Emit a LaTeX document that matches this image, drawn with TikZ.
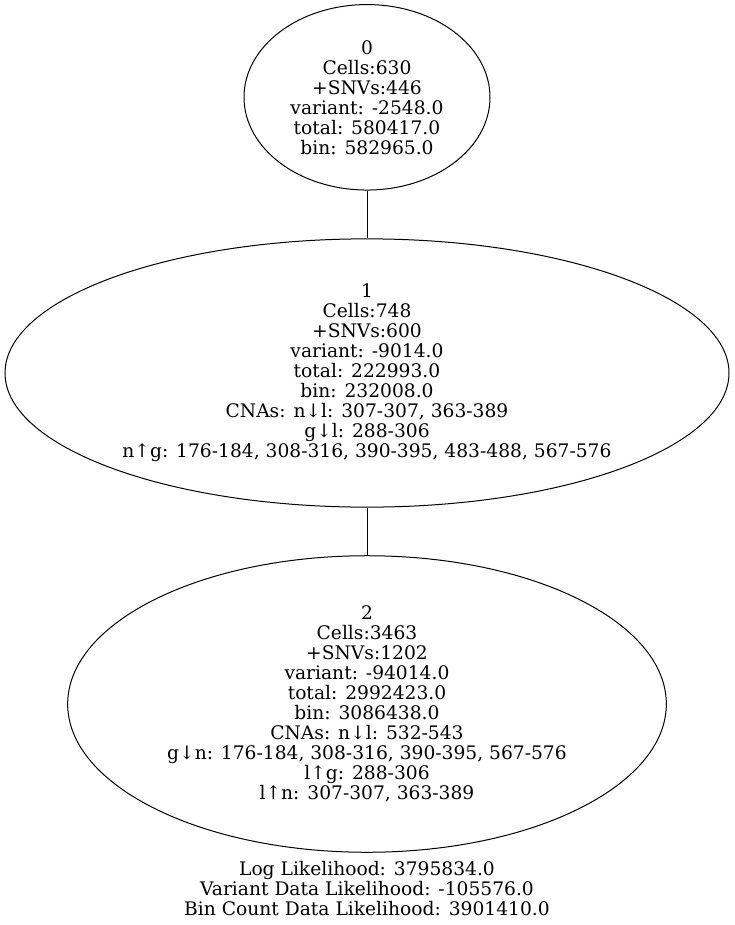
\documentclass[tikz,border=0pt]{standalone}
\usepackage{fontspec}
\setmainfont{DejaVu Serif}
\usetikzlibrary{shapes.geometric}
\begin{document}
\begin{tikzpicture}[x=0.75pt,y=-0.75pt,
  treenode/.style={draw,ellipse,inner sep=0pt,line width=0.75pt,align=center,
    font=\fontsize{14}{15}\selectfont},
  lbl/.style={align=center,inner sep=0pt,font=\fontsize{14}{15}\selectfont},
  edge/.style={line width=0.75pt}]
\useasboundingbox (0,0) rectangle (735,925);
\node[treenode,minimum width=184.5pt,minimum height=139.1pt] (n0) at (367,97.3)
  {0\\Cells:630\\+SNVs:446\\variant: -2548.0\\total: 580417.0\\bin: 582965.0};
\node[treenode,minimum width=543pt,minimum height=201.2pt] (n1) at (367,373)
  {1\\Cells:748\\+SNVs:600\\variant: -9014.0\\total: 222993.0\\bin: 232008.0\\CNAs: n↓l: 307-307, 363-389\\g↓l: 288-306\\n↑g: 176-184, 308-316, 390-395, 483-488, 567-576};
\node[treenode,minimum width=449pt,minimum height=222.4pt] (n2) at (367,704)
  {2\\Cells:3463\\+SNVs:1202\\variant: -94014.0\\total: 2992423.0\\bin: 3086438.0\\CNAs: n↓l: 532-543\\g↓n: 176-184, 308-316, 390-395, 567-576\\l↑g: 288-306\\l↑n: 307-307, 363-389};
\node[lbl] (ll) at (367,888.6)
  {Log Likelihood: 3795834.0\\Variant Data Likelihood: -105576.0\\Bin Count Data Likelihood: 3901410.0};
\draw[edge] (n0) -- (n1);
\draw[edge] (n1) -- (n2);
\end{tikzpicture}
\end{document}
